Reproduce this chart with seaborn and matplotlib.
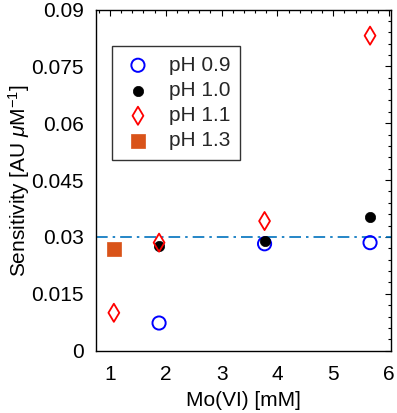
import matplotlib
matplotlib.use("Agg")
import matplotlib.pyplot as plt
import seaborn as sns
import pandas as pd
from matplotlib.ticker import MultipleLocator

# Data
x_09 = [1.88, 3.77, 5.66]
y_09 = [0.0073, 0.0282, 0.0285]
x_10 = [1.88, 3.77, 5.66]
y_10 = [0.0276, 0.0289, 0.0353]
x_11 = [1.07, 1.88, 3.77, 5.66]
y_11 = [0.0100, 0.0285, 0.0342, 0.0831]
x_13 = [1.07]
y_13 = [0.0269]
ref_level = 0.03
labels = ["pH 0.9", "pH 1.0", "pH 1.1", "pH 1.3"]
yticks = [0, 0.015, 0.03, 0.045, 0.06, 0.075, 0.09]
ytick_labels = ['0', '0.015', '0.03', '0.045', '0.06', '0.075', '0.09']
xticks = [1, 2, 3, 4, 5, 6]
xtick_labels = ['1', '2', '3', '4', '5', '6']

sns.set_theme(style="white")
plt.rcParams['font.family'] = ['Liberation Sans', 'DejaVu Sans']
plt.rcParams['mathtext.fontset'] = 'custom'
plt.rcParams['mathtext.rm'] = 'Liberation Sans'
plt.rcParams['mathtext.it'] = 'Liberation Sans:italic'

FS = 15

fig = plt.figure(figsize=(3.97, 4.13), dpi=100)
ax = fig.add_axes([96/397, (413-350.7)/413, (390.7-96)/397, (350.7-9.5)/413])

ax.axhline(ref_level, color='#0072BD', linestyle=(0, (7, 3, 1.5, 3)), linewidth=1.2, zorder=1)

df09 = pd.DataFrame({'x': x_09, 'y': y_09})
df10 = pd.DataFrame({'x': x_10, 'y': y_10})
df11 = pd.DataFrame({'x': x_11, 'y': y_11})
df13 = pd.DataFrame({'x': x_13, 'y': y_13})

sns.scatterplot(data=df09, x='x', y='y', ax=ax, marker='o', s=90,
                facecolor='none', edgecolor='#0000FF', linewidth=1.4, label=labels[0], zorder=3)
sns.scatterplot(data=df10, x='x', y='y', ax=ax, marker='o', s=55,
                color='black', edgecolor='black', linewidth=0.5, label=labels[1], zorder=4)
sns.scatterplot(data=df11, x='x', y='y', ax=ax, marker='d', s=85,
                facecolor='none', edgecolor='#FF0000', linewidth=1.3, label=labels[2], zorder=5)
sns.scatterplot(data=df13, x='x', y='y', ax=ax, marker='s', s=90,
                color='#D95319', edgecolor='#D95319', linewidth=0.5, label=labels[3], zorder=3)

ax.set_xlim(0.75, 6.03)
ax.set_ylim(0, 0.09)
ax.xaxis.set_minor_locator(MultipleLocator(0.2))
ax.yaxis.set_minor_locator(MultipleLocator(0.003))
ax.set_yticks(yticks)
ax.set_yticklabels(ytick_labels)
ax.set_xticks(xticks)
ax.set_xticklabels(xtick_labels)

ax.tick_params(which='both', direction='in', top=True, right=True, colors='black',
               labelsize=FS, width=0.8)
ax.tick_params(which='major', length=4)
ax.tick_params(axis='y', which='major', pad=9)
ax.tick_params(axis='x', which='major', pad=10)
ax.tick_params(which='minor', length=2.5)
for s in ax.spines.values():
    s.set_color('black')
    s.set_linewidth(1.0)

ax.set_xlabel('Mo(VI) [mM]', fontsize=FS, color='black', labelpad=5)
ax.set_ylabel(r'Sensitivity [AU $\mathit{\mu}$M$^{-1}$]', fontsize=FS, color='black', labelpad=-1)

leg = ax.legend(loc='upper left', bbox_to_anchor=(0.054, 0.892), frameon=True, fancybox=False,
                fontsize=FS, borderpad=0.45, handletextpad=0.7, labelspacing=0.3,
                handlelength=1.6, borderaxespad=0)
leg.get_frame().set_edgecolor('black')
leg.get_frame().set_linewidth(1.0)

fig.savefig('out.png', dpi=100)
